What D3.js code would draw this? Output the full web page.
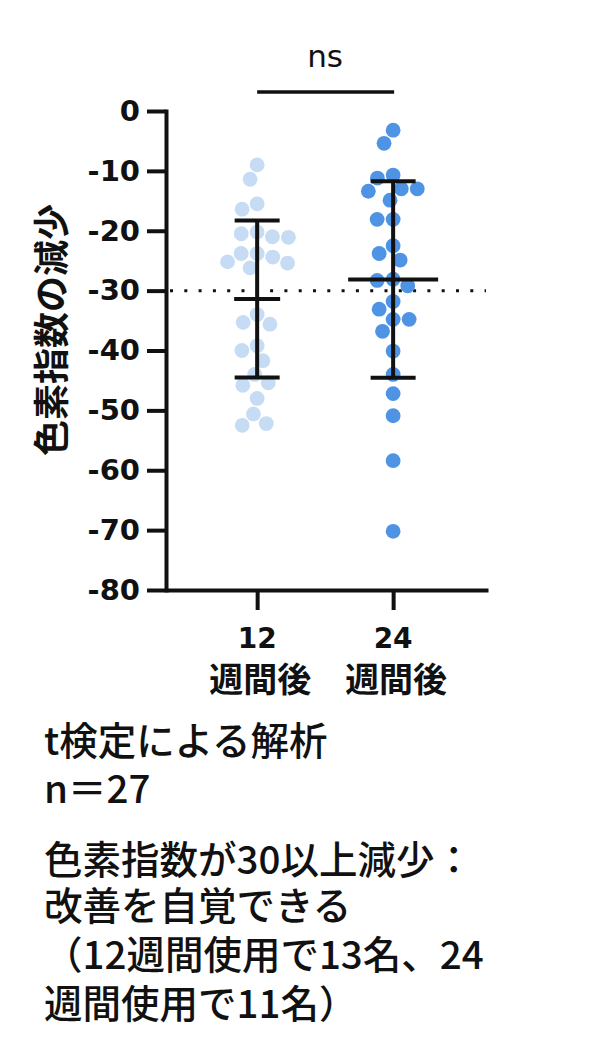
<!DOCTYPE html>
<html>
<head>
<meta charset="utf-8">
<script src="https://cdn.jsdelivr.net/npm/d3@7"></script>
<style>
  html, body { margin: 0; padding: 0; background: #fff; }
  svg { display: block; }
</style>
</head>
<body>
<svg id="chart" width="600" height="1058"></svg>
<script>
// Pigment index reduction, 12 vs 24 weeks (scatter + mean ± SD)

const weeks = ["12", "24"];
const weekUnit = "週間後";

// values, one per subject (n = 27)
const week12 = [-9.0, -11.4, -15.5, -16.4, -21.1, -20.2, -20.5, -21.0, -23.8, -24.4,
  -25.4, -26.2, -25.2, -23.8, -34.0, -35.3, -35.6, -39.2, -40.0, -41.7,
  -44.0, -45.8, -45.4, -48.0, -50.6, -52.5, -52.2];
const week24 = [-3.2, -5.4, -11.2, -10.7, -13.0, -13.0, -13.4, -14.9, -18.1, -18.1,
  -22.5, -23.8, -24.9, -29.2, -28.3, -28.1, -31.8, -33.1, -34.8, -34.8,
  -36.8, -40.1, -44.0, -47.2, -50.9, -58.4, -70.2];

const yTicks = [0, -10, -20, -30, -40, -50, -60, -70, -80];
const threshold = -30;
const sigLabel = "ns";
const yTitle = "色素指数の減少";

const notes = [
  "t検定による解析",
  "n＝27",
  "色素指数が30以上減少：",
  "改善を自覚できる",
  "（12週間使用で13名、24",
  "週間使用で11名）"
];

// styles
const dotColors = ["#c6dbf4", "#4f94e4"];
const meanWidths = [46, 90];
const capWidth = 45;
const dotR = 7.4;
const ink = "#111";

const plotL = 166, plotR = 488, plotT = 111, plotB = 590;

const svg = d3.select("#chart");
svg.append("rect").attr("width", 600).attr("height", 1058).attr("fill", "#fff");

const y = d3.scaleLinear().domain([0, -80]).range([plotT, plotB]);
const x = d3.scalePoint().domain(weeks).range([plotL, plotR]).padding(0.684).align(0.49);

// simple greedy beeswarm: each dot goes to the free spot nearest the column centre
function swarm(values, d) {
  const placed = [];
  const xs = new Array(values.length);
  const order = d3.range(values.length).sort((a, b) => values[b] - values[a]);
  order.forEach(i => {
    const yi = y(values[i]);
    const blocked = placed
      .filter(p => Math.abs(p.y - yi) < d)
      .map(p => {
        const w = Math.sqrt(d * d - (p.y - yi) ** 2);
        return [p.x - w, p.x + w];
      });
    const cands = [0].concat(blocked.flat()).sort((a, b) => Math.abs(a) - Math.abs(b));
    const cx = cands.find(c => blocked.every(b => c <= b[0] + 1e-6 || c >= b[1] - 1e-6));
    xs[i] = cx;
    placed.push({ x: cx, y: yi });
  });
  return xs;
}

const series = [week12, week24];

// threshold line (dotted)
svg.append("line")
  .attr("x1", plotL + 4).attr("x2", plotR - 2)
  .attr("y1", y(threshold)).attr("y2", y(threshold))
  .attr("stroke", ink)
  .attr("stroke-width", 3)
  .attr("stroke-dasharray", "3,11.3");

// dots
series.forEach((vals, gi) => {
  const cx0 = x(weeks[gi]);
  const offs = swarm(vals, 16);
  svg.append("g")
    .selectAll("circle")
    .data(vals)
    .join("circle")
    .attr("cx", (d, i) => cx0 + offs[i])
    .attr("cy", d => y(d))
    .attr("r", dotR)
    .attr("fill", dotColors[gi]);
});

// mean ± SD
series.forEach((vals, gi) => {
  const cx0 = x(weeks[gi]);
  const m = d3.mean(vals);
  const sd = d3.deviation(vals);
  const g = svg.append("g").attr("stroke", ink).attr("stroke-width", 4);
  g.append("line").attr("x1", cx0).attr("x2", cx0).attr("y1", y(m + sd)).attr("y2", y(m - sd));
  [m + sd, m - sd].forEach(v => {
    g.append("line")
      .attr("x1", cx0 - capWidth / 2).attr("x2", cx0 + capWidth / 2)
      .attr("y1", y(v)).attr("y2", y(v));
  });
  g.append("line")
    .attr("x1", cx0 - meanWidths[gi] / 2).attr("x2", cx0 + meanWidths[gi] / 2)
    .attr("y1", y(m)).attr("y2", y(m));
});

// y axis
const yAxis = svg.append("g")
  .attr("transform", `translate(${plotL},0)`)
  .call(d3.axisLeft(y).tickValues(yTicks).tickSize(19).tickSizeOuter(0).tickPadding(7)
    .tickFormat(d => String(d)));
yAxis.select(".domain").attr("stroke", ink).attr("stroke-width", 4).attr("stroke-linecap", "square");
yAxis.selectAll(".tick line").attr("stroke", ink).attr("stroke-width", 4);
yAxis.selectAll(".tick text")
  .attr("fill", ink)
  .attr("font-family", "'DejaVu Sans', sans-serif")
  .attr("font-weight", "bold")
  .attr("font-size", 29);

// x axis
const xAxis = svg.append("g")
  .attr("transform", `translate(0,${plotB})`)
  .call(d3.axisBottom(x).tickSize(20).tickSizeOuter(0).tickFormat(""));
xAxis.select(".domain").attr("stroke", ink).attr("stroke-width", 4);
xAxis.selectAll(".tick line").attr("stroke", ink).attr("stroke-width", 4);

weeks.forEach(w => {
  svg.append("text")
    .attr("x", x(w)).attr("y", 648)
    .attr("text-anchor", "middle")
    .attr("font-family", "'DejaVu Sans', sans-serif")
    .attr("font-weight", "bold")
    .attr("font-size", 28)
    .attr("fill", ink)
    .text(w);
  svg.append("text")
    .attr("x", x(w) + 3).attr("y", 692)
    .attr("text-anchor", "middle")
    .attr("font-family", "'Noto Sans CJK JP', sans-serif")
    .attr("font-weight", "bold")
    .attr("font-size", 34)
    .attr("fill", ink)
    .text(weekUnit);
});

// y title
svg.append("text")
  .attr("transform", "translate(49,330) rotate(-90)")
  .attr("text-anchor", "middle")
  .attr("dominant-baseline", "central")
  .attr("font-family", "'Noto Sans CJK JP', sans-serif")
  .attr("font-weight", "bold")
  .attr("font-size", 36)
  .attr("fill", ink)
  .text(yTitle);

// significance bracket
const x1 = x(weeks[0]), x2 = x(weeks[1]);
svg.append("line")
  .attr("x1", x1).attr("x2", x2 + 1)
  .attr("y1", 92).attr("y2", 92)
  .attr("stroke", ink).attr("stroke-width", 3.5);
svg.append("text")
  .attr("x", (x1 + x2) / 2).attr("y", 67)
  .attr("text-anchor", "middle")
  .attr("font-family", "'DejaVu Sans', sans-serif")
  .attr("font-size", 31)
  .attr("fill", ink)
  .text(sigLabel);

// notes under the chart
const noteY = [755, 803, 874, 920, 969, 1018];
svg.append("g")
  .selectAll("text")
  .data(notes)
  .join("text")
  .attr("x", 44)
  .attr("y", (d, i) => noteY[i])
  .attr("font-family", "'Noto Sans CJK JP', sans-serif")
  .attr("font-weight", 500)
  .attr("font-size", 38.5)
  .attr("fill", ink)
  .text(d => d);
</script>
</body>
</html>
